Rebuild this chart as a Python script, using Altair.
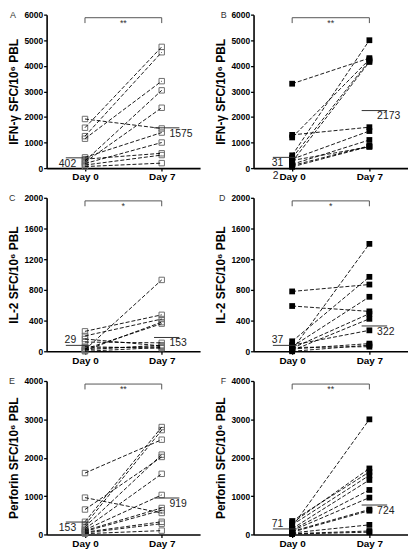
import altair as alt
import pandas as pd

FONT = "Liberation Sans"

DAYS = ["Day 0", "Day 7"]

# ---- values (paired: Day 0 -> Day 7) ----
A_DAY0 = [1920, 1580, 1250, 1150, 280, 230, 420, 180, 350, 120, 60]
A_DAY7 = [1550, 4740, 4530, 3400, 3040, 2360, 1390, 1000, 580, 510, 195]

B_DAY0 = [3300, 1300, 1200, 500, 400, 250, 350, 150, 100, 50, 300]
B_DAY7 = [4300, 1600, 4250, 5000, 4200, 4150, 1450, 1100, 870, 850, 830]

C_DAY0 = [260, 200, 20, 10, 120, 160, 30, 40, 20, 0, 60]
C_DAY7 = [475, 420, 930, 380, 110, 70, 360, 60, 80, 50, 40]

D_DAY0 = [780, 590, 20, 130, 60, 40, 10, 80, 30, 0, 50]
D_DAY7 = [870, 520, 1400, 970, 710, 490, 423, 273, 100, 80, 60]

E_DAY0 = [1600, 960, 650, 330, 250, 200, 150, 120, 100, 80, 60, 40, 20]
E_DAY7 = [2470, 560, 2020, 2800, 2720, 2080, 1580, 1030, 690, 630, 330, 280, 100]

F_DAY0 = [200, 300, 350, 250, 150, 120, 100, 80, 60, 40, 20, 10]
F_DAY7 = [3000, 1720, 1630, 1540, 1420, 1160, 960, 650, 620, 250, 90, 60]

LETTERS = ["A", "B", "C", "D", "E", "F"]
Y_TITLES = ["IFN-γ SFC/10⁶ PBL", "IFN-γ SFC/10⁶ PBL",
            "IL-2 SFC/10⁶ PBL", "IL-2 SFC/10⁶ PBL",
            "Perforin SFC/10⁶ PBL", "Perforin SFC/10⁶ PBL"]
Y_MAX = [6000, 6000, 2000, 2000, 4000, 4000]
Y_STEP = [1000, 1000, 400, 400, 1000, 1000]
FILLED = [False, True, False, True, False, True]
DATA0 = [A_DAY0, B_DAY0, C_DAY0, D_DAY0, E_DAY0, F_DAY0]
DATA7 = [A_DAY7, B_DAY7, C_DAY7, D_DAY7, E_DAY7, F_DAY7]

# median lines and their printed labels
MED0_LINE = [402, 420, 77, 77, 323, 144]
MED0_TEXT = ["402", "31", "29", "37", "153", "71"]
MED0_ABOVE = [False, False, True, True, False, True]
MED7_LINE = [1575, 2250, 180, 330, 950, 767]
MED7_TEXT = ["1575", "2173", "153", "322", "919", "724"]
STARS = ["**", "**", "*", "*", "**", "**"]

LETTER_DX = [-37, -33, -38, -35, -38, -33]

W_LEFT, W_RIGHT, H = 155, 156, 155


def panel(i, width):
    n = len(DATA0[i])
    ymax = Y_MAX[i]
    df = pd.DataFrame({
        "subject": list(range(n)) * 2,
        "x": [0] * n + [1] * n,
        "value": DATA0[i] + DATA7[i],
    })
    xenc = alt.X("x:Q",
                 scale=alt.Scale(domain=[-0.5, 1.5], nice=False, zero=False),
                 axis=alt.Axis(values=[0, 1],
                               labelExpr=f"datum.value == 0 ? '{DAYS[0]}' : '{DAYS[1]}'",
                               title=None, grid=False))
    yenc = alt.Y("value:Q",
                 scale=alt.Scale(domain=[0, ymax], nice=False, zero=True),
                 axis=alt.Axis(values=list(range(0, ymax + 1, Y_STEP[i])),
                               format="d", labelOverlap=False,
                               tickCount=len(range(0, ymax + 1, Y_STEP[i])),
                               title=Y_TITLES[i], grid=False))
    base = alt.Chart(df)
    if FILLED[i]:
        pts = base.mark_point(shape="square", filled=True, color="black",
                              size=34, opacity=1)
    else:
        pts = base.mark_point(shape="square", filled=False, color="#6e6e6e",
                              size=30, strokeWidth=1, opacity=1)
    pts = pts.encode(x=xenc, y=yenc)
    lines = base.mark_line(color="black", strokeDash=[4, 2],
                           strokeWidth=0.9).encode(
        x=xenc, y=yenc, detail="subject:N")

    # median lines
    med = pd.DataFrame({
        "x": [-0.25, 0.9],
        "x2": [0.06, 1.23],
        "value": [MED0_LINE[i], MED7_LINE[i]],
    })
    med_rules = alt.Chart(med).mark_rule(color="#333", strokeWidth=1).encode(
        x=xenc, x2="x2", y=yenc)

    lab0 = pd.DataFrame({"x": [-0.115], "value": [MED0_LINE[i]],
                         "t": [MED0_TEXT[i]]})
    if MED0_ABOVE[i]:
        t0 = alt.Chart(lab0).mark_text(align="right", baseline="alphabetic",
                                       dy=-2, fontSize=10.5, font=FONT,
                                       color="#222")
    else:
        t0 = alt.Chart(lab0).mark_text(align="right", baseline="top", dy=1,
                                       fontSize=10.5, font=FONT, color="#222")
    t0 = t0.encode(x=xenc, y=yenc, text="t:N")

    lab7 = pd.DataFrame({"x": [1.1], "value": [MED7_LINE[i]],
                         "t": [MED7_TEXT[i]]})
    t7 = alt.Chart(lab7).mark_text(align="left", baseline="top", dy=1,
                                   fontSize=10.5, font=FONT,
                                   color="#222").encode(
        x=xenc, y=yenc, text="t:N")

    # significance bracket
    top = ymax * 0.98
    bot = ymax * 0.945
    br_h = pd.DataFrame({"x": [0], "x2": [1], "value": [top]})
    br_v = pd.DataFrame({"x": [0, 1], "value": [bot, bot], "value2": [top, top]})
    bh = alt.Chart(br_h).mark_rule(color="#555", strokeWidth=1).encode(
        x=xenc, x2="x2", y=yenc)
    bv = alt.Chart(br_v).mark_rule(color="#555", strokeWidth=1).encode(
        x=xenc, y=yenc, y2="value2")
    st = alt.Chart(pd.DataFrame({"x": [0.5], "value": [top], "t": [STARS[i]]})
                   ).mark_text(baseline="top", dy=1, fontSize=9, font=FONT,
                               color="#333").encode(
        x=xenc, y=yenc, text="t:N")

    letter = alt.Chart(pd.DataFrame({"t": [LETTERS[i]]})).mark_text(
        align="left", baseline="middle", fontSize=9, font=FONT,
        color="#333").encode(
        text="t:N", x=alt.value(LETTER_DX[i]), y=alt.value(0))

    layers = [pts, lines, med_rules, t0, t7, bh, bv, st, letter]
    if LETTERS[i] == "B":
        stray = alt.Chart(pd.DataFrame({"x": [-0.175], "t": ["2"]})).mark_text(
            align="right", baseline="top", fontSize=10.5, font=FONT,
            color="#222").encode(x=xenc, y=alt.value(H + 3), text="t:N")
        layers.append(stray)
    return alt.layer(*layers).properties(width=width, height=H)


rows = []
for r in range(3):
    rows.append(alt.hconcat(panel(2 * r, W_LEFT), panel(2 * r + 1, W_RIGHT),
                            spacing=15))

chart = alt.vconcat(*rows, spacing=12).properties(padding=0).configure_view(
    stroke=None
).configure_axis(
    domainColor="black", domainWidth=1.6, tickColor="black", tickWidth=1.3,
    labelFont=FONT, titleFont=FONT, labelColor="black", titleColor="black",
    grid=False
).configure_axisX(
    tickSize=3, labelFontSize=10, labelFontWeight="bold", labelPadding=1
).configure_axisY(
    tickSize=3, labelFontSize=8.5, labelFontWeight="bold", labelPadding=1,
    titleFontSize=12, titleFontWeight="bold", titlePadding=3
)

chart.save("out.html", embed_options={"renderer": "svg", "actions": False})
